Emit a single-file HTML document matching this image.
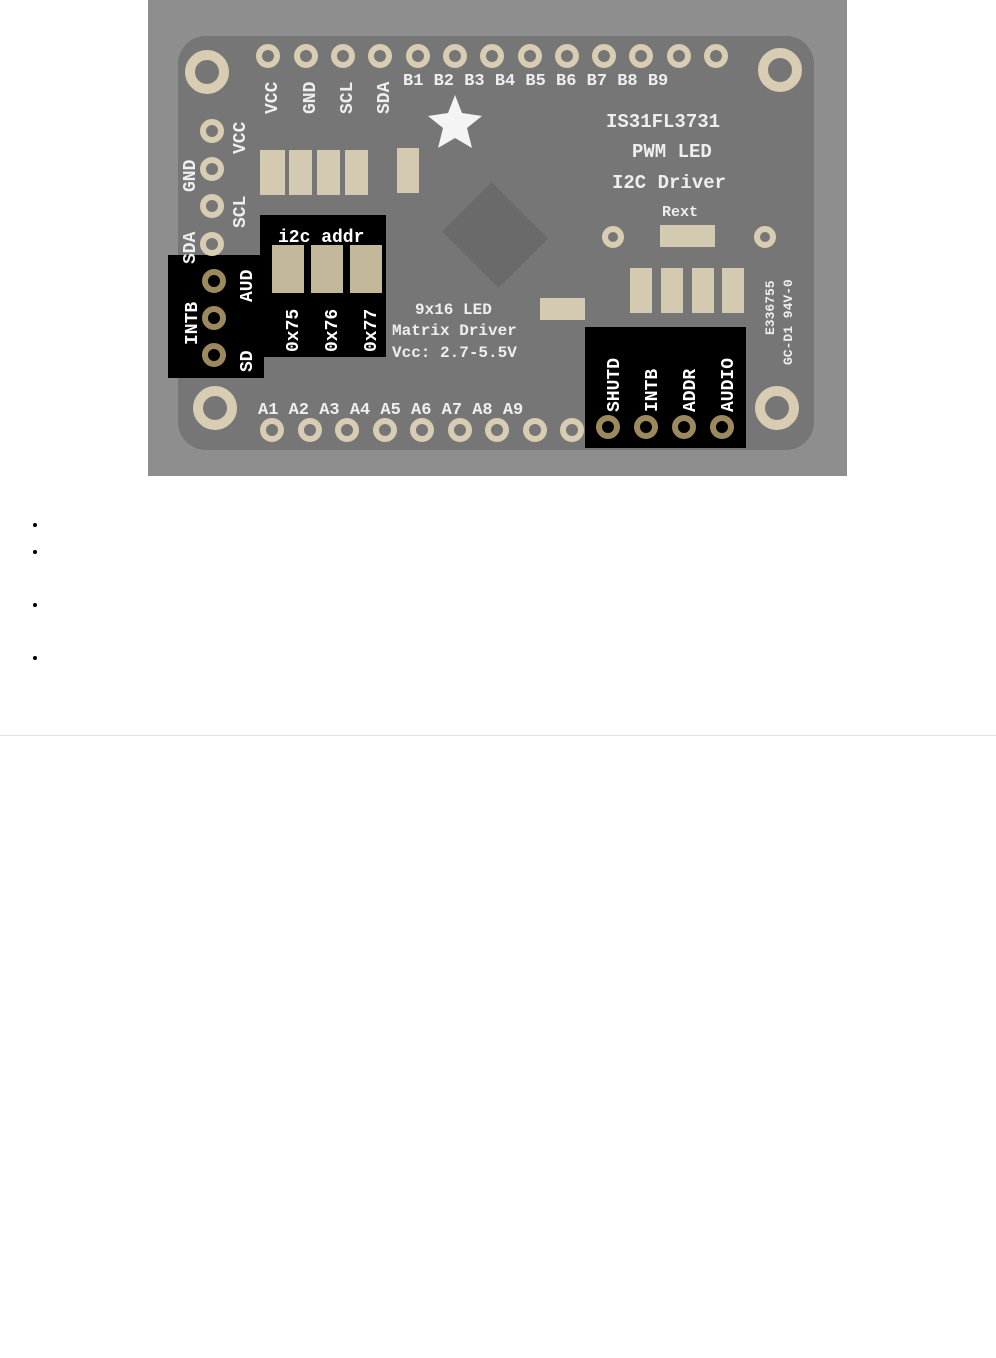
<!DOCTYPE html><html><head><style>
body{margin:0;background:#fff;width:996px;height:1358px;position:relative;font-family:"Liberation Sans",sans-serif}
svg{position:absolute;left:148px;top:0}
ul{position:absolute;top:511px;left:0;margin:0;padding-left:40px}
li{font-size:16px;line-height:27px}
hr{position:absolute;top:735px;left:0;width:996px;margin:0;border:0;border-top:1px solid #e0e0e0}
</style></head><body>
<svg width="699" height="476" viewBox="148 0 699 476" xmlns="http://www.w3.org/2000/svg" font-family="Liberation Mono,monospace" font-weight="bold">
<rect x="148" y="0" width="699" height="476" fill="#8e8e8e"/>
<rect x="178" y="36" width="636" height="414" rx="28" fill="#767676"/>
<g fill="#eee" font-size="19">
<text x="606" y="127">IS31FL3731</text><text x="632" y="157">PWM LED</text><text x="612" y="188">I2C Driver</text>
<text x="662" y="216" font-size="15">Rext</text>
<text x="415" y="314" font-size="16">9x16 LED</text><text x="392" y="335" font-size="16">Matrix Driver</text><text x="392" y="357" font-size="16">Vcc: 2.7-5.5V</text>
</g>
<polygon points="455,95 462,113 482,116 467,128 472,148 455,138 438,148 443,128 428,116 448,113" fill="#f4f4f4"/>
<rect x="455" y="200" width="80" height="70" transform="rotate(45 495 235)" fill="#6a6a6a"/>
<rect x="168" y="255" width="96" height="123" fill="#000"/>
<rect x="260" y="215" width="126" height="142" fill="#000"/>
<rect x="585" y="327" width="161" height="121" fill="#000"/>
<g fill="#c4b89a"><rect x="272" y="245" width="32" height="48"/><rect x="311" y="245" width="32" height="48"/><rect x="350" y="245" width="32" height="48"/></g>
<g fill="#fff" font-size="18"><text x="278" y="242">i2c addr</text></g>
<g fill="#fff" font-size="18">
<text transform="translate(298,352) rotate(-90)">0x75</text><text transform="translate(337,352) rotate(-90)">0x76</text><text transform="translate(376,352) rotate(-90)">0x77</text>
<text transform="translate(197,345) rotate(-90)">INTB</text><text transform="translate(252,302) rotate(-90)">AUD</text><text transform="translate(252,372) rotate(-90)">SD</text>
<text transform="translate(619,412) rotate(-90)">SHUTD</text><text transform="translate(657,412) rotate(-90)">INTB</text><text transform="translate(695,412) rotate(-90)">ADDR</text><text transform="translate(733,412) rotate(-90)">AUDIO</text>
</g>
<g fill="#eee" font-size="18">
<text transform="translate(277,114) rotate(-90)">VCC</text><text transform="translate(315,114) rotate(-90)">GND</text><text transform="translate(352,114) rotate(-90)">SCL</text><text transform="translate(389,114) rotate(-90)">SDA</text>
<text transform="translate(245,154) rotate(-90)">VCC</text><text transform="translate(195,192) rotate(-90)">GND</text><text transform="translate(245,228) rotate(-90)">SCL</text><text transform="translate(195,264) rotate(-90)">SDA</text>
<text x="403" y="85" font-size="17">B1 B2 B3 B4 B5 B6 B7 B8 B9</text>
<text x="258" y="414" font-size="17">A1 A2 A3 A4 A5 A6 A7 A8 A9</text>
<text transform="translate(774,335) rotate(-90)" font-size="13">E336755</text><text transform="translate(792,365) rotate(-90)" font-size="13">GC-D1 94V-0</text>
</g>
<g fill="#d4cab2">
<rect x="260" y="150" width="25" height="45"/><rect x="289" y="150" width="23" height="45"/><rect x="317" y="150" width="23" height="45"/><rect x="345" y="150" width="23" height="45"/><rect x="397" y="148" width="22" height="45"/>
<rect x="630" y="268" width="22" height="45"/><rect x="661" y="268" width="22" height="45"/><rect x="692" y="268" width="22" height="45"/><rect x="722" y="268" width="22" height="45"/>
<rect x="540" y="298" width="45" height="22"/><rect x="660" y="225" width="55" height="22"/>
</g>
<g fill="none" stroke="#d8cdb2" stroke-width="6">
<circle cx="268" cy="56" r="9"/><circle cx="306" cy="56" r="9"/><circle cx="343" cy="56" r="9"/><circle cx="380" cy="56" r="9"/><circle cx="418" cy="56" r="9"/><circle cx="455" cy="56" r="9"/><circle cx="492" cy="56" r="9"/><circle cx="530" cy="56" r="9"/><circle cx="567" cy="56" r="9"/><circle cx="604" cy="56" r="9"/><circle cx="641" cy="56" r="9"/><circle cx="679" cy="56" r="9"/><circle cx="716" cy="56" r="9"/>
<circle cx="272" cy="430" r="9"/><circle cx="310" cy="430" r="9"/><circle cx="347" cy="430" r="9"/><circle cx="385" cy="430" r="9"/><circle cx="422" cy="430" r="9"/><circle cx="460" cy="430" r="9"/><circle cx="497" cy="430" r="9"/><circle cx="535" cy="430" r="9"/><circle cx="572" cy="430" r="9"/>
<circle cx="212" cy="131" r="9"/><circle cx="212" cy="169" r="9"/><circle cx="212" cy="206" r="9"/><circle cx="212" cy="244" r="9"/>
<circle cx="613" cy="237" r="8"/><circle cx="765" cy="237" r="8"/>
<circle cx="207" cy="72" r="17" stroke-width="10"/><circle cx="780" cy="70" r="17" stroke-width="10"/><circle cx="215" cy="408" r="17" stroke-width="10"/><circle cx="777" cy="408" r="17" stroke-width="10"/>
</g>
<g fill="none" stroke="#9c8a5e" stroke-width="6">
<circle cx="214" cy="281" r="9"/><circle cx="214" cy="318" r="9"/><circle cx="214" cy="355" r="9"/>
<circle cx="608" cy="427" r="9"/><circle cx="646" cy="427" r="9"/><circle cx="684" cy="427" r="9"/><circle cx="722" cy="427" r="9"/>
</g>
</svg>
<ul style="padding-left:48px"><li>&nbsp;</li><li style="height:53px">&nbsp;</li><li style="height:53px">&nbsp;</li><li>&nbsp;</li></ul>
<hr>
</body></html>
